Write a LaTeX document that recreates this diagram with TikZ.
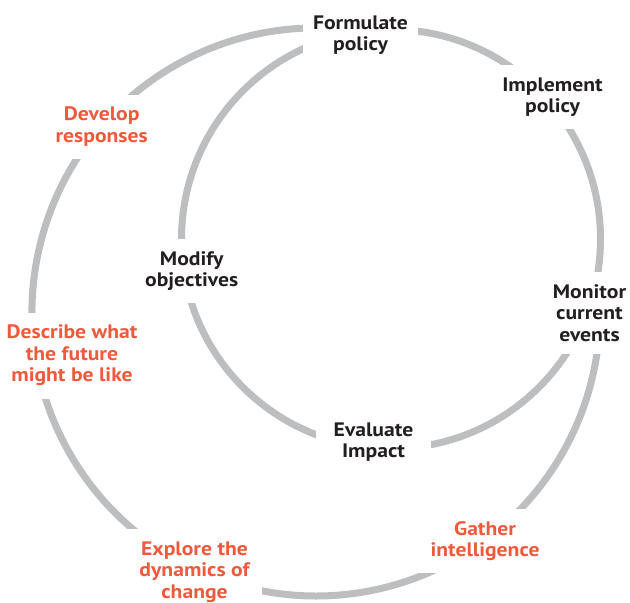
\documentclass[tikz,border=0pt]{standalone}
\usepackage{fontspec}
\setmainfont{PT Sans}[FakeStretch=1.11]
\definecolor{ringgray}{RGB}{188,190,192}
\definecolor{labelred}{RGB}{239,90,60}
\definecolor{labelblack}{RGB}{35,31,32}
\begin{document}
\begin{tikzpicture}[x=1pt,y=-1pt,
  ring/.style={draw=ringgray, line width=7pt},
  lbl/.style={fill=white, align=center, inner sep=12.5pt,
    font=\fontsize{19.5}{21.5}\selectfont\bfseries},
  policy/.style={lbl, text=labelblack},
  foresight/.style={lbl, text=labelred}]
\useasboundingbox (0,0) rectangle (630,603);

% centres of the two cycles
\coordinate (outerc) at (316,312);
\coordinate (innerc) at (391,239);

% long foresight loop: from the top, round the left and bottom, up to the right
\draw[ring] (outerc) ++(75:284pt) arc[start angle=75, end angle=367, radius=284pt];
% short policy loop
\draw[ring] (innerc) circle[radius=209.5pt];

% policy cycle labels
\node[policy, inner xsep=10pt] (formulate) at (360.5,35) {Formulate\\policy};
\node[policy] (implement) at (552.5,97) {Implement\\policy};
\node[policy] (monitor) at (589.5,313) {Monitor\\current\\events};
\node[policy, inner xsep=17.5pt] (evaluate) at (373.5,442) {Evaluate\\Impact};
\node[policy] (modify) at (191.7,271) {Modify\\objectives};

% foresight cycle labels
\node[foresight] (develop) at (101.7,126.7) {Develop\\responses};
\node[foresight] (describe) at (72,355.5) {Describe what\\the future\\might be like};
\node[foresight] (explore) at (194.5,572) {Explore the\\dynamics of\\change};
\node[foresight] (gather) at (485,541) {Gather\\intelligence};
\end{tikzpicture}
\end{document}
